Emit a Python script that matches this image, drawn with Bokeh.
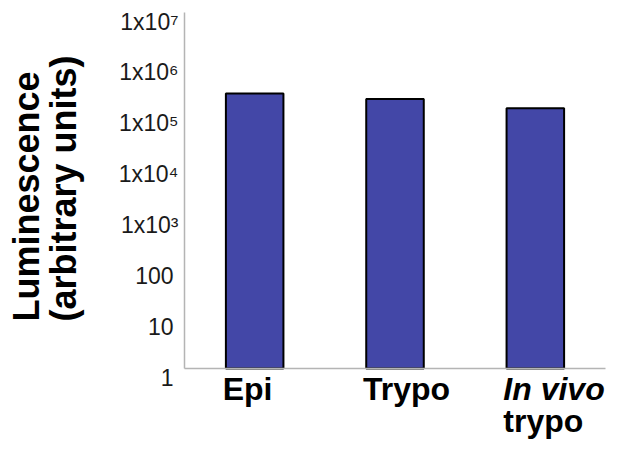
import math
from bokeh.plotting import figure
from bokeh.models import Range1d, Label, ColumnDataSource
from bokeh.embed import file_html
from bokeh.resources import INLINE

categories = ["Epi", "Trypo", "In vivo trypo"]
values = [2.55e5, 2.0e5, 1.31e5]
y_ticks = [1, 10, 100, 1e3, 1e4, 1e5, 1e6, 1e7]
y_tick_labels = ["1", "10", "100", "1x10\u00b3", "1x10\u2074", "1x10\u2075", "1x10\u2076", "1x10\u2077"]
x_label_lines = [["Epi"], ["Trypo"], ["In vivo", "trypo"]]
y_title_lines = ["Luminescence", "(arbitrary units)"]

FONT = "Liberation Sans"

# layout (pixels in the canvas)
W, H = 611, 442
AX_L, AX_R, AX_T, AX_B = 184, 605, 12, 368
ncat = len(categories)
cw = (AX_R - AX_L) / ncat                       # px per category
dh = (AX_B - AX_T) / (math.log10(y_ticks[-1]) - math.log10(y_ticks[0]))  # px per decade

p = figure(x_range=Range1d(-AX_L / cw, (W - AX_L) / cw),
           y_range=Range1d(10 ** (-(H - AX_B) / dh), 10 ** (AX_B / dh)),
           y_axis_type="log", x_axis_location=None, y_axis_location=None,
           width=W, height=H, output_backend="svg", toolbar_location=None,
           min_border=0)
p.outline_line_color = None
p.grid.visible = False
p.background_fill_color = "white"

xpos = [i + 0.5 for i in range(ncat)]
src = ColumnDataSource(dict(x=xpos, val=values, cat=categories))
p.vbar(x="x", top="val", bottom=y_ticks[0], width=0.41, source=src,
       fill_color="#4347A7", line_color="black", line_width=2)

# axis lines
p.segment(x0=[0, 0], y0=[y_ticks[0], y_ticks[0]], x1=[0, ncat], y1=[y_ticks[-1], y_ticks[0]],
          line_color="#b4b4b4", line_width=1.5)

for t, lab in zip(y_ticks, y_tick_labels):
    off = -6 if "x" in lab else -11
    p.add_layout(Label(x=0, y=t, x_offset=off, y_offset=-9, text=lab,
                       text_align="right", text_baseline="middle",
                       text_font=FONT, text_font_size="23px", text_color="#1a1a1a"))

for i, lines in enumerate(x_label_lines):
    for j, line in enumerate(lines):
        style = "bold italic" if line == "In vivo" else "bold"
        p.add_layout(Label(x=xpos[i], y=y_ticks[0], x_offset=-32, y_offset=-20 - 32 * j, text=line,
                           text_align="left", text_baseline="alphabetic",
                           text_font=FONT, text_font_size="32px", text_font_style=style,
                           text_color="black"))

title_pos = [(-158, 172), (-121, 180)]
for line, (xo, yo) in zip(y_title_lines, title_pos):
    p.add_layout(Label(x=0, y=y_ticks[0], x_offset=xo, y_offset=yo, text=line, angle=math.pi / 2,
                       text_align="center", text_baseline="middle",
                       text_font=FONT, text_font_size="36px", text_font_style="bold",
                       text_color="black"))

open("out.html", "w").write(file_html(p, INLINE))
